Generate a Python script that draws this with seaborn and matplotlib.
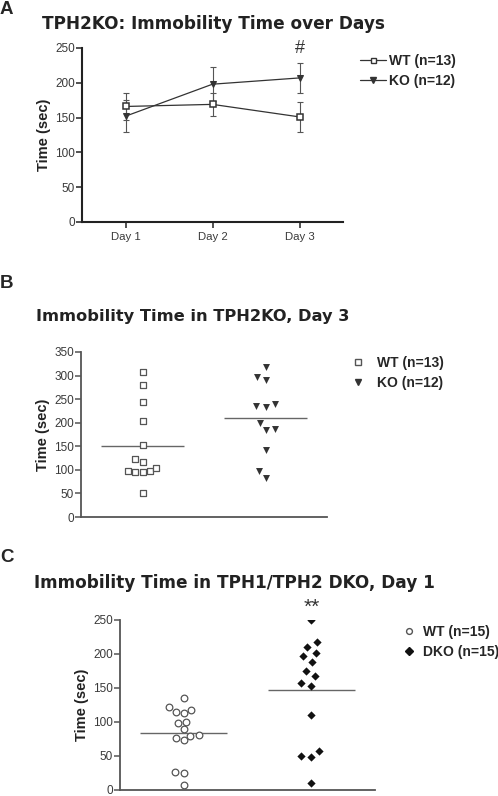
import numpy as np
import pandas as pd
import matplotlib
matplotlib.use("Agg")
import matplotlib.pyplot as plt
import seaborn as sns
from matplotlib.lines import Line2D

# Panel A: mean +/- SEM over days
days = ["Day 1", "Day 2", "Day 3"]
wt_mean_a = [166, 169, 151]
wt_sem_a = [19, 17, 22]
ko_mean_a = [152, 198, 207]
ko_sem_a = [23, 24, 22]

# Panel B: individual values, day 3
wt_b = [307, 279, 243, 204, 153, 117, 122, 97, 95, 95, 97, 104, 51]
ko_b = [318, 291, 298, 236, 234, 240, 200, 184, 187, 143, 83, 98]

# Panel C: individual values, DKO day 1
wt_c = [135, 118, 113, 115, 122, 98, 89, 100, 80, 73, 76, 81, 26, 25, 7]
dko_c = [250, 218, 211, 202, 197, 188, 175, 167, 157, 153, 111, 50, 48, 58, 11]

sns.set_style("white")
plt.rcParams["font.family"] = ["Liberation Sans", "DejaVu Sans"]

dark = "#333333"
grey = "#555555"

fig = plt.figure(figsize=(4.98, 7.96), dpi=100)


def style_axes(ax, xticks=True, spine_c="#222222", lw=1.5):
    sns.despine(ax=ax)
    for s in ["left", "bottom"]:
        ax.spines[s].set_color(spine_c)
        ax.spines[s].set_linewidth(lw)
    ax.tick_params(axis="y", direction="out", length=4, width=1.1, color=spine_c,
                   labelsize=8.5, labelcolor="#3a3a3a", pad=1, left=True)
    if xticks:
        ax.tick_params(axis="x", direction="out", length=4, width=1.1, color=spine_c,
                       labelsize=8.2, labelcolor="#3a3a3a", pad=3, bottom=True)
    else:
        ax.set_xticks([])
    ax.set_ylabel("Time (sec)", fontsize=10.5, fontweight="bold", labelpad=3,
                  color="#222222")
    ax.set_xlabel("")


def title(x, y, text, size, letter_y, letter):
    fig.text(0.0, 1 - letter_y / 796, letter, fontsize=13.5, fontweight="bold",
             va="center", ha="left")
    fig.text(x / 498, 1 - y / 796, text, fontsize=size, fontweight="bold",
             family="DejaVu Sans", va="center", ha="left", color="#222222")


leg_kw = dict(bbox_transform=fig.transFigure, frameon=False,
              prop={"size": 10, "weight": "bold"},
              labelspacing=0.45, borderaxespad=0, loc="center left",
              borderpad=0)

# ---------- Panel A ----------
axA = fig.add_axes([82 / 498, 1 - 222 / 796, 261 / 498, 174 / 796])
dfA = pd.DataFrame({"day": days * 2,
                    "time": wt_mean_a + ko_mean_a,
                    "group": ["WT (n=13)"] * 3 + ["KO (n=12)"] * 3})
sns.lineplot(data=dfA[dfA.group == "WT (n=13)"], x="day", y="time", ax=axA,
             color=dark, lw=0.9, marker="s", markersize=4.4,
             markerfacecolor="white", markeredgecolor=dark, markeredgewidth=1.1, zorder=3)
sns.lineplot(data=dfA[dfA.group == "KO (n=12)"], x="day", y="time", ax=axA,
             color=dark, lw=0.9, marker="v", markersize=4.8,
             markerfacecolor=dark, markeredgecolor=dark, zorder=3)
axA.errorbar(range(3), wt_mean_a, yerr=wt_sem_a, fmt="none", ecolor=grey,
             elinewidth=0.8, capsize=2.5, capthick=0.8, zorder=2)
axA.errorbar(range(3), ko_mean_a, yerr=ko_sem_a, fmt="none", ecolor=grey,
             elinewidth=0.8, capsize=2.5, capthick=0.8, zorder=2)
axA.set_xlim(-0.5, 2.5)
axA.set_ylim(0, 250)
axA.set_yticks([0, 50, 100, 150, 200, 250])
style_axes(axA)
axA.text(2, 237, "#", ha="center", va="bottom", fontsize=13, color=dark)
hA = [Line2D([], [], color=dark, lw=0.9, marker="s", markersize=3.6,
             markerfacecolor="white", markeredgecolor=dark),
      Line2D([], [], color=dark, lw=0.9, marker="v", markersize=4.2,
             markerfacecolor=dark, markeredgecolor=dark)]
axA.legend(hA, ["WT (n=13)", "KO (n=12)"], bbox_to_anchor=(360 / 498, 1 - 71 / 796),
           handlelength=1.9, handletextpad=0.2, **leg_kw)
title(42, 24, "TPH2KO: Immobility Time over Days", 12.2, 10, "A")

# ---------- Panel B ----------
axB = fig.add_axes([81 / 498, 1 - 517 / 796, 246 / 498, 165 / 796])
dfB = pd.DataFrame({"group": ["WT"] * len(wt_b) + ["KO"] * len(ko_b),
                    "time": wt_b + ko_b})
order_b = ["WT", "KO"]
sns.swarmplot(data=dfB[dfB.group == "WT"], x="group", y="time", order=order_b,
              ax=axB, marker="s", size=4.2, color="white", edgecolor=grey,
              linewidth=0.9)
sns.swarmplot(data=dfB[dfB.group == "KO"], x="group", y="time", order=order_b,
              ax=axB, marker="v", size=5.0, color=dark, edgecolor=(0, 0, 0, 0),
              linewidth=1.6)
for i, g in enumerate(order_b):
    m = dfB[dfB.group == g].time.mean()
    axB.hlines(m, i - 0.34, i + 0.34, color="#666666", lw=1.0, zorder=1)
axB.set_xlim(-0.5, 1.5)
axB.set_ylim(0, 350)
axB.set_yticks(range(0, 351, 50))
style_axes(axB, xticks=False, spine_c="#555555", lw=1.3)
hB = [Line2D([], [], ls="none", marker="s", markersize=4.0,
             markerfacecolor="white", markeredgecolor=grey),
      Line2D([], [], ls="none", marker="v", markersize=5.0,
             markerfacecolor=dark, markeredgecolor=dark)]
axB.legend(hB, ["WT (n=13)", "KO (n=12)"], bbox_to_anchor=(352 / 498, 1 - 373 / 796),
           handlelength=0.8, handletextpad=1.0, **leg_kw)
title(36, 317, "Immobility Time in TPH2KO, Day 3", 11.7, 283, "B")

# ---------- Panel C ----------
axC = fig.add_axes([120 / 498, 1 - 790 / 796, 255 / 498, 170 / 796])
dfC = pd.DataFrame({"group": ["WT"] * len(wt_c) + ["DKO"] * len(dko_c),
                    "time": wt_c + dko_c})
order_c = ["WT", "DKO"]
sns.swarmplot(data=dfC[dfC.group == "WT"], x="group", y="time", order=order_c,
              ax=axC, marker="o", size=4.8, color="white", edgecolor=grey,
              linewidth=0.9)
sns.swarmplot(data=dfC[dfC.group == "DKO"], x="group", y="time", order=order_c,
              ax=axC, marker="D", size=4.2, color="#111111", edgecolor=(0, 0, 0, 0),
              linewidth=3.2)
for i, g in enumerate(order_c):
    m = dfC[dfC.group == g].time.mean()
    axC.hlines(m, i - 0.34, i + 0.34, color="#666666", lw=1.0, zorder=1)
axC.set_xlim(-0.5, 1.5)
axC.set_ylim(0, 250)
axC.set_yticks([0, 50, 100, 150, 200, 250])
style_axes(axC, xticks=False, spine_c="#555555", lw=1.3)
axC.text(1, 268, "**", ha="center", va="center", fontsize=15, color=dark,
         clip_on=False)
hC = [Line2D([], [], ls="none", marker="o", markersize=4.2,
             markerfacecolor="white", markeredgecolor=grey),
      Line2D([], [], ls="none", marker="D", markersize=3.6,
             markerfacecolor="#111111", markeredgecolor="#111111")]
axC.legend(hC, ["WT (n=15)", "DKO (n=15)"], bbox_to_anchor=(406 / 498, 1 - 642 / 796),
           handlelength=0.5, handletextpad=0.7, **leg_kw)
title(34, 583, "Immobility Time in TPH1/TPH2 DKO, Day 1", 12.2, 557, "C")

fig.savefig("out.png", dpi=100)
